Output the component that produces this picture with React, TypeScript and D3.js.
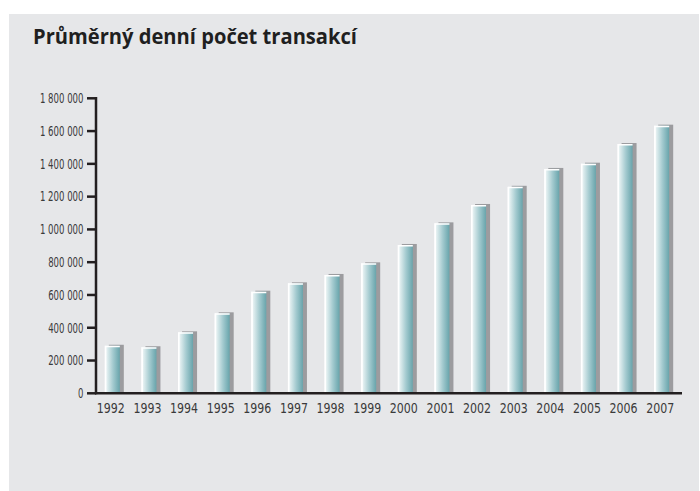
import React from "react";
import * as d3 from "d3";

const title = "Průměrný denní počet transakcí";
const years = ["1992","1993","1994","1995","1996","1997","1998","1999","2000","2001","2002","2003","2004","2005","2006","2007"];
const values = [290000,281000,372000,488000,620000,671000,722000,793000,905000,1037000,1149000,1260000,1369000,1401000,1521000,1633000];
const yTicks = [0,200000,400000,600000,800000,1000000,1200000,1400000,1600000,1800000];

const W = 700, H = 491;
const x0 = 96, x1 = 682, yBase = 393.3, yTop = 98.3;
const condFont = "'DejaVu Sans Condensed', 'Liberation Sans Narrow', 'Liberation Sans', sans-serif";

export default function App() {
  const x = d3.scaleBand<string>().domain(years).range([x0, x1]).padding(0);
  const y = d3.scaleLinear().domain([0, 1800000]).range([yBase, yTop]);
  const loc = d3.formatLocale({ decimal: ",", thousands: " ", grouping: [3], currency: ["", ""] });
  const fmt = loc.format(",d");
  const bw = 15, sh = 4;
  const labLen = (s: string) => {
    let L = 0;
    for (const c of s) L += c === " " ? 2.9 : 5.4;
    return L;
  };
  return (
    <svg width={W} height={H} style={{ position: "absolute", left: 0, top: 0 }}>
      <defs>
        <linearGradient id="barg" x1="0" x2="1" y1="0" y2="0">
          <stop offset="0%" stopColor="#ffffff" />
          <stop offset="12%" stopColor="#e6f1f2" />
          <stop offset="55%" stopColor="#a3cacf" />
          <stop offset="100%" stopColor="#68a4ab" />
        </linearGradient>
      </defs>
      <rect x={9} y={14} width={690} height={477} fill="#e6e7e9" />
      <text x={33} y={44} fontFamily="'Open Sans', 'Noto Sans', sans-serif" fontWeight="bold" fontSize={20.5} fill="#1f1f1f" textLength={324} lengthAdjust="spacingAndGlyphs">{title}</text>
      {values.map((v, i) => {
        const bx = (x(years[i]) as number) + (x.bandwidth() - bw - sh) / 2;
        const top = y(v);
        return (
          <g key={years[i]}>
            <rect x={bx + sh} y={top - 1} width={bw} height={yBase - top + 1} fill="#9c9c9f" />
            <rect x={bx} y={top} width={bw} height={yBase - top} fill="url(#barg)" />
            <path d={`M${bx + 0.75},${yBase} V${top + 0.75} H${bx + bw}`} stroke="#ffffff" strokeWidth={1.5} fill="none" />
            <text x={bx + bw / 2 - 1.5} y={yBase + 20} textAnchor="middle" fontFamily={condFont} fontSize={14.5} fill="#3a3a3a" textLength={28} lengthAdjust="spacingAndGlyphs">{years[i]}</text>
          </g>
        );
      })}
      {yTicks.map((t) => {
        const s = fmt(t);
        return (
          <g key={t}>
            <line x1={87} x2={x0} y1={y(t)} y2={y(t)} stroke="#231f20" strokeWidth={2.5} />
            <text x={83.5} y={y(t) + 4.8} textAnchor="end" fontFamily={condFont} fontSize={13.5} fill="#3a3a3a" textLength={labLen(s)} lengthAdjust="spacingAndGlyphs">{s}</text>
          </g>
        );
      })}
      <line x1={x0} x2={x0} y1={yTop - 1.2} y2={yBase + 1} stroke="#231f20" strokeWidth={2.5} />
      <line x1={x0 - 1} x2={x1} y1={yBase} y2={yBase} stroke="#231f20" strokeWidth={2.5} />
    </svg>
  );
}
